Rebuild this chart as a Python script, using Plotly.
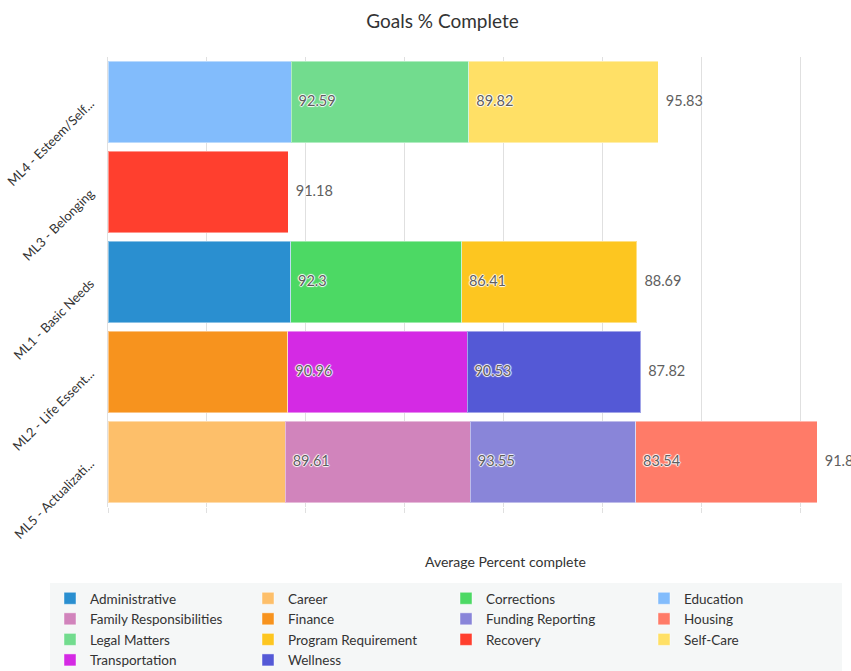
import plotly.graph_objects as go
import numpy as np

# Categories, top to bottom
categories = ["ML4 - Esteem/Self...", "ML3 - Belonging", "ML1 - Basic Needs",
              "ML2 - Life Essent...", "ML5 - Actualizati..."]

# Series (alphabetical), each belongs to one category
series_names = ["Administrative", "Career", "Corrections", "Education",
                "Family Responsibilities", "Finance", "Funding Reporting", "Housing",
                "Legal Matters", "Program Requirement", "Recovery", "Self-Care",
                "Transportation", "Wellness"]
series_category = ["ML1 - Basic Needs", "ML5 - Actualizati...", "ML1 - Basic Needs",
                   "ML4 - Esteem/Self...", "ML5 - Actualizati...", "ML2 - Life Essent...",
                   "ML5 - Actualizati...", "ML5 - Actualizati...", "ML4 - Esteem/Self...",
                   "ML1 - Basic Needs", "ML3 - Belonging", "ML4 - Esteem/Self...",
                   "ML2 - Life Essent...", "ML2 - Life Essent..."]
series_values = [92.3, 89.61, 86.41, 92.59, 93.55, 90.96, 83.54, 91.89,
                 89.82, 88.69, 91.18, 95.83, 90.53, 87.82]
series_colors = ["#2a8fd0", "#fdbf6a", "#4cd964", "#82bcfc", "#d184bc", "#f7931e",
                 "#8985d9", "#ff7b68", "#72dc8e", "#fdc620", "#ff3f2e", "#ffe066",
                 "#d42ae4", "#5459d6"]

FONT = "Lato, 'Open Sans', sans-serif"
HALO = ("1px 0px 1px #ffffff, -1px 0px 1px #ffffff, 0px 1px 1px #ffffff, "
        "0px -1px 1px #ffffff")

fig = go.Figure()
for name, cat, val, col in zip(series_names, series_category, series_values, series_colors):
    fig.add_trace(go.Bar(
        y=[cat], x=[val], name=name, orientation="h",
        marker=dict(color=col, line=dict(color="rgba(255,255,255,0.45)", width=1)),
        hoverinfo="name+x",
    ))

# value labels at the end of each segment (cumulative position along the stack)
lab_x, lab_y, lab_t = [], [], []
for cat in categories:
    cum = 0.0
    for cat2, val in zip(series_category, series_values):
        if cat2 == cat:
            cum += val
            lab_x.append(cum)
            lab_y.append(cat)
            lab_t.append("  " + f"{val:g}")
fig.add_trace(go.Scatter(
    x=lab_x, y=lab_y, text=lab_t, mode="text", textposition="middle right",
    textfont=dict(family=FONT, size=14.5, color="#5f5f5f", shadow=HALO),
    showlegend=False, hoverinfo="skip", cliponaxis=True,
))

fig.update_layout(
    barmode="stack",
    bargap=0.09,
    width=851, height=671,
    margin=dict(l=0, r=0, t=57, b=164),
    paper_bgcolor="white", plot_bgcolor="white",
    font=dict(family=FONT, color="#333333"),
    title=dict(text="Goals % Complete", x=0.52, xanchor="center", y=0.968, yanchor="middle",
               font=dict(family=FONT, size=19, color="#333333")),
    xaxis=dict(domain=[108 / 851, 1], range=[0, 375.6], dtick=50, showticklabels=False,
               showgrid=True, gridcolor="#e0e0e0", gridwidth=1, zeroline=False,
               ticks="outside", ticklen=5, tickcolor="#e0e0e0", showline=False),
    yaxis=dict(categoryorder="array", categoryarray=categories, autorange="reversed",
               tickangle=-45, tickfont=dict(family=FONT, size=13, color="#333333"),
               ticklabelstandoff=14,
               showline=True, linecolor="#e0e0e0", showgrid=False, ticks=""),
    legend=dict(orientation="h", xref="container", yref="container",
                x=50 / 851, xanchor="left", y=1 - 583 / 671, yanchor="top",
                bgcolor="#f5f7f7", borderwidth=0, entrywidth=153, entrywidthmode="pixels",
                font=dict(family=FONT, size=13.5, color="#333333"), traceorder="normal"),
    annotations=[dict(text="Average Percent complete", xref="paper", yref="paper",
                      x=505 / 851, y=-0.12, xanchor="center", yanchor="middle", showarrow=False,
                      font=dict(family=FONT, size=14, color="#333333"))],
)

fig.write_html("out.html")
